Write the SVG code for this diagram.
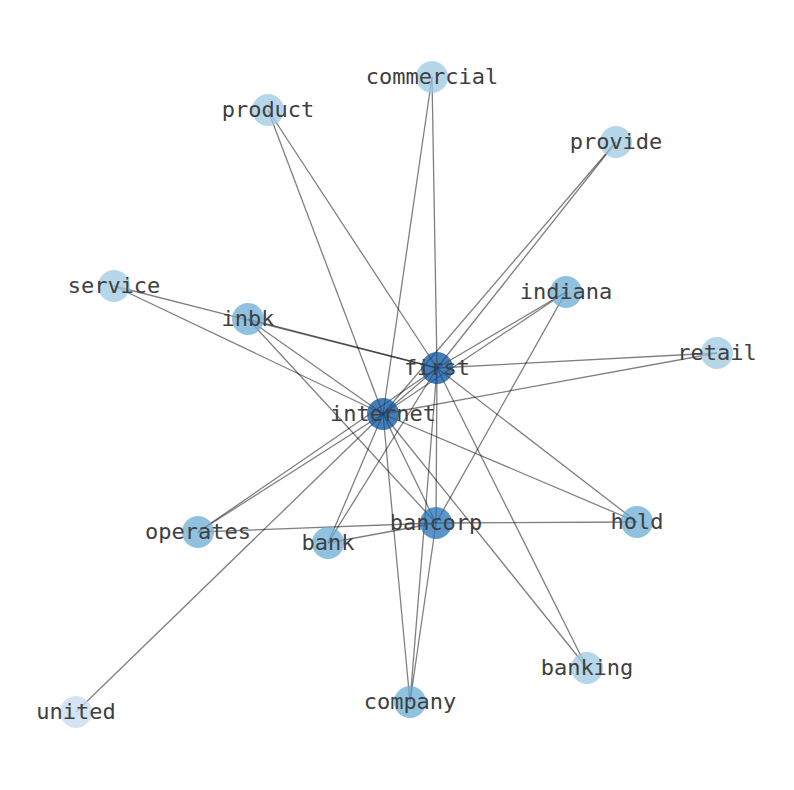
<svg xmlns="http://www.w3.org/2000/svg" width="794" height="790" viewBox="0 0 794 790">
<style>
.e line{stroke:#000;stroke-opacity:0.5;stroke-width:1.3}
.n circle{r:16px;fill-opacity:0.75}
.d15{fill:#08519c}
.d8{fill:#2171b5}
.d3{fill:#6baed6}
.d2{fill:#9ecae1}
.d1{fill:#c6dbef}
text{font-family:"DejaVu Sans Mono","Liberation Mono",monospace;font-size:22px;fill:#404040;text-anchor:middle;dominant-baseline:central}
</style>
<rect width="794" height="790" fill="#fff"/>
<g id="connectors" class="e">
<line x1="383" y1="414" x2="432" y2="77"/>
<line x1="383" y1="414" x2="268" y2="110"/>
<line x1="383" y1="414" x2="616" y2="142"/>
<line x1="383" y1="414" x2="114" y2="286"/>
<line x1="383" y1="414" x2="248" y2="319"/>
<line x1="383" y1="414" x2="566" y2="292"/>
<line x1="383" y1="414" x2="717" y2="353"/>
<line x1="383" y1="414" x2="437" y2="368"/>
<line x1="383" y1="414" x2="198" y2="532"/>
<line x1="383" y1="414" x2="328" y2="543"/>
<line x1="383" y1="414" x2="436" y2="523"/>
<line x1="383" y1="414" x2="637" y2="522"/>
<line x1="383" y1="414" x2="587" y2="668"/>
<line x1="383" y1="414" x2="410" y2="702"/>
<line x1="383" y1="414" x2="76" y2="712"/>
<line x1="437" y1="368" x2="432" y2="77"/>
<line x1="437" y1="368" x2="268" y2="110"/>
<line x1="437" y1="368" x2="616" y2="142"/>
<line x1="437" y1="368" x2="114" y2="286"/>
<line x1="437" y1="368" x2="248" y2="319"/>
<line x1="437" y1="368" x2="566" y2="292"/>
<line x1="437" y1="368" x2="717" y2="353"/>
<line x1="437" y1="368" x2="198" y2="532"/>
<line x1="437" y1="368" x2="328" y2="543"/>
<line x1="437" y1="368" x2="436" y2="523"/>
<line x1="437" y1="368" x2="637" y2="522"/>
<line x1="437" y1="368" x2="587" y2="668"/>
<line x1="437" y1="368" x2="410" y2="702"/>
<line x1="436" y1="523" x2="198" y2="532"/>
<line x1="436" y1="523" x2="328" y2="543"/>
<line x1="436" y1="523" x2="637" y2="522"/>
<line x1="436" y1="523" x2="410" y2="702"/>
<line x1="436" y1="523" x2="566" y2="292"/>
<line x1="436" y1="523" x2="248" y2="319"/>
</g>
<g id="node-commercial" class="n"><circle class="d2" cx="432" cy="77"/><text x="432" y="76">commercial</text></g>
<g id="node-product" class="n"><circle class="d2" cx="268" cy="110"/><text x="268" y="109">product</text></g>
<g id="node-provide" class="n"><circle class="d2" cx="616" cy="142"/><text x="616" y="141">provide</text></g>
<g id="node-service" class="n"><circle class="d2" cx="114" cy="286"/><text x="114" y="285">service</text></g>
<g id="node-inbk" class="n"><circle class="d3" cx="248" cy="319"/><text x="248" y="318">inbk</text></g>
<g id="node-indiana" class="n"><circle class="d3" cx="566" cy="292"/><text x="566" y="291">indiana</text></g>
<g id="node-retail" class="n"><circle class="d2" cx="717" cy="353"/><text x="717" y="352">retail</text></g>
<g id="node-first" class="n"><circle class="d15" cx="437" cy="368"/><text x="437" y="367">first</text></g>
<g id="node-internet" class="n"><circle class="d15" cx="383" cy="414"/><text x="383" y="413">internet</text></g>
<g id="node-operates" class="n"><circle class="d3" cx="198" cy="532"/><text x="198" y="531">operates</text></g>
<g id="node-bank" class="n"><circle class="d3" cx="328" cy="543"/><text x="328" y="542">bank</text></g>
<g id="node-bancorp" class="n"><circle class="d8" cx="436" cy="523"/><text x="436" y="522">bancorp</text></g>
<g id="node-hold" class="n"><circle class="d3" cx="637" cy="522"/><text x="637" y="521">hold</text></g>
<g id="node-banking" class="n"><circle class="d2" cx="587" cy="668"/><text x="587" y="667">banking</text></g>
<g id="node-company" class="n"><circle class="d3" cx="410" cy="702"/><text x="410" y="701">company</text></g>
<g id="node-united" class="n"><circle class="d1" cx="76" cy="712"/><text x="76" y="711">united</text></g>
</svg>
